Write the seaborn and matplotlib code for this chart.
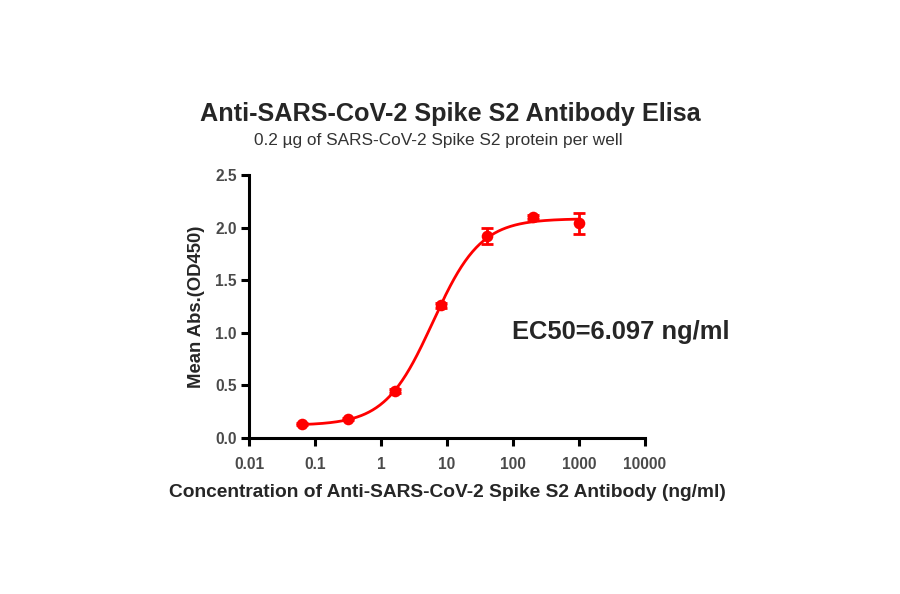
import numpy as np
import pandas as pd
import seaborn as sns
import matplotlib.pyplot as plt
from matplotlib.ticker import FixedLocator, FixedFormatter, NullLocator

# Measured points (ng/ml vs mean OD450)
conc = [0.064, 0.32, 1.6, 8.0, 40.0, 200.0, 1000.0]
mean_abs = [0.13, 0.18, 0.45, 1.26, 1.92, 2.10, 2.04]
sd_abs = [0.01, 0.01, 0.02, 0.02, 0.08, 0.02, 0.10]

# 4PL fit parameters
fit_bottom = 0.12
fit_top = 2.085
fit_ec50 = 6.097
fit_hill = 1.2

x_ticks = [0.01, 0.1, 1, 10, 100, 1000, 10000]
x_tick_labels = ["0.01", "0.1", "1", "10", "100", "1000", "10000"]
y_ticks = [0.0, 0.5, 1.0, 1.5, 2.0, 2.5]

red = "#ff0000"

sns.set_style("ticks")
plt.rcParams["font.family"] = ["Liberation Sans", "DejaVu Sans"]

fig = plt.figure(figsize=(9, 5.94), dpi=100)
ax = fig.add_axes([0.2767, 0.2626, 0.44, 0.4428])

# fitted curve
xs = np.logspace(np.log10(conc[0]), np.log10(conc[-1]), 300)
ys = fit_bottom + (fit_top - fit_bottom) / (1 + (fit_ec50 / xs) ** fit_hill)
curve = pd.DataFrame({"x": xs, "y": ys})
sns.lineplot(data=curve, x="x", y="y", color=red, lw=2, ax=ax)

pts = pd.DataFrame({"conc": conc, "abs": mean_abs, "sd": sd_abs})
ax.errorbar(pts["conc"], pts["abs"], yerr=pts["sd"], fmt="none",
            ecolor=red, elinewidth=2, capsize=4, capthick=2, zorder=3)
sns.scatterplot(data=pts, x="conc", y="abs", color=red, s=70,
                edgecolor=red, linewidth=0, ax=ax, zorder=4)

ax.set_xscale("log")
ax.set_xlim(0.01, 10000)
ax.set_ylim(0, 2.5)
ax.xaxis.set_major_locator(FixedLocator(x_ticks))
ax.xaxis.set_major_formatter(FixedFormatter(x_tick_labels))
ax.xaxis.set_minor_locator(NullLocator())
ax.set_yticks(y_ticks)
ax.set_yticklabels([f"{v:.1f}" for v in y_ticks])

sns.despine(ax=ax)
for side in ["left", "bottom"]:
    ax.spines[side].set_linewidth(2.2)
    ax.spines[side].set_color("black")
ax.tick_params(axis="both", which="major", direction="out", length=6,
               width=2.2, colors="black", labelsize=11.2, labelcolor="#4a4a4a",
               pad=3)
ax.tick_params(axis="x", pad=8)
for lbl in ax.get_xticklabels() + ax.get_yticklabels():
    lbl.set_fontweight("bold")

ax.set_xlabel("Concentration of Anti-SARS-CoV-2 Spike S2 Antibody (ng/ml)",
              fontsize=13.8, fontweight="bold", labelpad=8)
ax.set_ylabel("Mean Abs.(OD450)", fontsize=13.3, fontweight="bold", labelpad=7)

fig.text(0.5, 0.808, "Anti-SARS-CoV-2 Spike S2 Antibody Elisa",
         ha="center", va="center", fontsize=18.2, fontweight="bold")
fig.text(0.487, 0.763, "0.2 \u00b5g of SARS-CoV-2 Spike S2 protein per well",
         ha="center", va="center", fontsize=12.4, color="#333333")
fig.text(0.5689, 0.441, "EC50=6.097 ng/ml", ha="left", va="center",
         fontsize=18.4, fontweight="bold")

fig.savefig("out.png", dpi=100)
